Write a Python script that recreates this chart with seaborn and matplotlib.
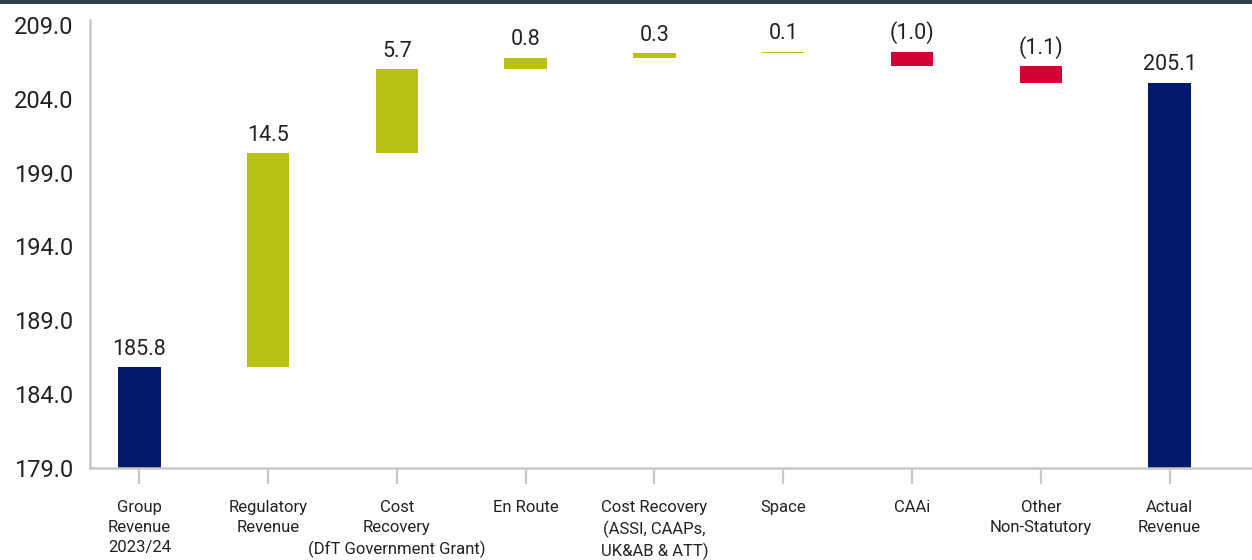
import matplotlib
matplotlib.use("Agg")
import matplotlib.pyplot as plt
from matplotlib.patches import Rectangle
import numpy as np
import seaborn as sns

# Revenue bridge (GBP m)
categories = [
    "Group\nRevenue\n2023/24",
    "Regulatory\nRevenue",
    "Cost\nRecovery\n(DfT Government Grant)",
    "En Route",
    "Cost Recovery\n(ASSI, CAAPs,\nUK&AB & ATT)",
    "Space",
    "CAAi",
    "Other\nNon-Statutory",
    "Actual\nRevenue",
]
start_value = 185.8
changes = [14.5, 5.7, 0.8, 0.3, 0.1, -1.0, -1.1]
end_value = 205.1
y_ticks = [179.0, 184.0, 189.0, 194.0, 199.0, 204.0, 209.0]

NAVY = "#011A6C"
GREEN = "#B9C114"
RED = "#D30037"
TEXT = "#222222"
GRID = "#C8C8C8"

# Floating segments: bottoms and signed heights
axis_floor = y_ticks[0]
running = np.concatenate([[start_value], start_value + np.cumsum(changes)])
bottoms = [axis_floor] + list(running[:-1]) + [axis_floor]
heights = [start_value - axis_floor] + changes + [end_value - axis_floor]
colors = [NAVY] + [GREEN if c >= 0 else RED for c in changes] + [NAVY]
labels = [f"{start_value:.1f}"] + [
    f"{c:.1f}" if c >= 0 else f"({abs(c):.1f})" for c in changes
] + [f"{end_value:.1f}"]
tops = [max(b, b + h) for b, h in zip(bottoms, heights)]

sns.set_theme(style="white")
plt.rcParams["font.family"] = ["Roboto", "DejaVu Sans"]

fig = plt.figure(figsize=(12.52, 5.6), dpi=100)
ax = fig.add_axes([90 / 1252, 1 - 467.5 / 560, 1 - 90 / 1252, (467.5 - 20) / 560])

keys = [c.replace("\n", " ") for c in categories]
sns.barplot(x=keys, y=heights, bottom=bottoms, color=NAVY, width=0.33,
            errorbar=None, saturation=1, ax=ax)
for patch, col in zip(ax.patches, colors):
    patch.set_facecolor(col)
    patch.set_edgecolor("none")
    patch.set_linewidth(0)

for i, (top, lab) in enumerate(zip(tops, labels)):
    ax.annotate(lab, xy=(i, top), xytext=(0, 5.5), textcoords="offset points",
                ha="center", va="bottom", fontsize=15.5, color=TEXT)

ax.set_ylim(179.0, 209.35)
ax.set_xlim(-0.383, 8.64)
ax.set_yticks(y_ticks)
ax.set_yticklabels([f"{t:.1f}" for t in y_ticks], fontsize=17, color=TEXT)
ax.set_xticks(range(len(categories)))
ax.set_xticklabels(categories, fontsize=12, color=TEXT, linespacing=1.4, va="top")
ax.tick_params(axis="y", length=0, pad=12)
ax.tick_params(axis="x", length=11.5, width=1.6, color=GRID, pad=12, direction="out",
               bottom=True)
ax.set_xlabel("")
ax.set_ylabel("")

for side in ("top", "right"):
    ax.spines[side].set_visible(False)
for side in ("left", "bottom"):
    ax.spines[side].set_color(GRID)
    ax.spines[side].set_linewidth(1.8)
ax.grid(False)

# dark header strip
fig.patches.append(Rectangle((0, 1 - 4 / 560), 1, 4 / 560, transform=fig.transFigure,
                             facecolor="#2F3D4C", edgecolor="none", zorder=10))

fig.savefig("out.png", dpi=100)
